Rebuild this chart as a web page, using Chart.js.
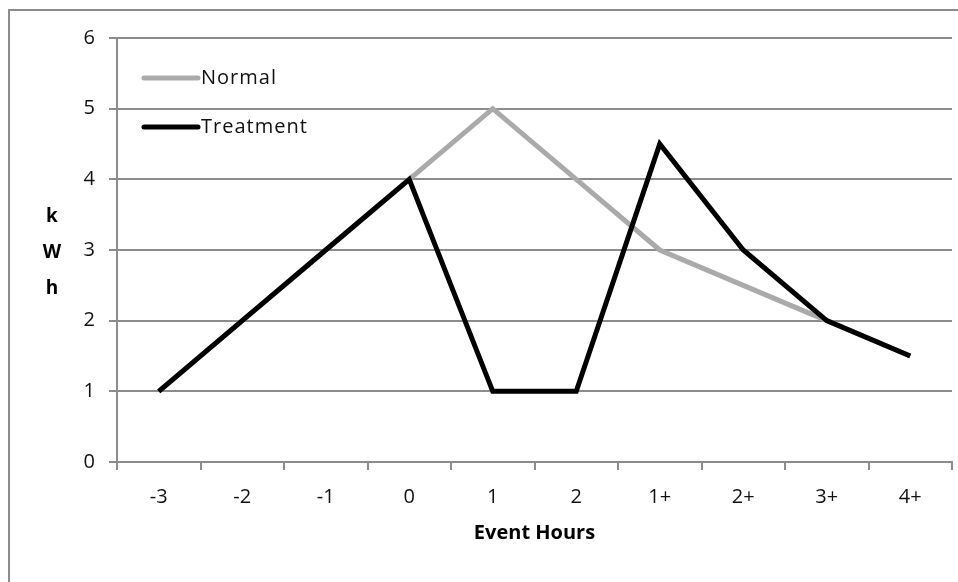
<!DOCTYPE html>
<html>
<head>
<meta charset="utf-8">
<script src="https://cdn.jsdelivr.net/npm/chart.js@4.4.1/dist/chart.umd.min.js"></script>
<style>
  html, body { margin: 0; padding: 0; background: #fff; overflow: hidden; }
  #frame {
    position: absolute; left: 8px; top: 9px; width: 1000px; height: 700px;
    border: 2px solid #8c8c8c; box-sizing: border-box;
  }
  #wrap { position: absolute; left: 0; top: 0; width: 958px; height: 582px; }
</style>
</head>
<body>
<div id="frame"></div>
<div id="wrap"><canvas id="kwhChart" width="958" height="582"></canvas></div>
<script>
// Chart data
const hours = ['-3', '-2', '-1', '0', '1', '2', '1+', '2+', '3+', '4+'];
const normalKwh = [1, 2, 3, 4, 5, 4, 3, 2.5, 2, 1.5];
const treatmentKwh = [1, 2, 3, 4, 1, 1, 4.5, 3, 2, 1.5];
const yTicks = [0, 1, 2, 3, 4, 5, 6];

const FONT = '"Open Sans", "Liberation Sans", sans-serif';
const GRID = '#8c8c8c';

// legend drawn inside the plot, top-left
const insideLegend = {
    id: 'insideLegend',
    afterDraw(chart) {
        const ctx = chart.ctx;
        const left = chart.chartArea.left;
        const items = chart.data.datasets.map((ds, i) => ({ label: ds.label, color: ds.borderColor, y: chart.chartArea.top + 40 + i * 49 }));
        ctx.save();
        ctx.font = '20px ' + FONT;
        ctx.letterSpacing = '1px';
        ctx.textBaseline = 'middle';
        items.forEach(it => {
            ctx.strokeStyle = it.color;
            ctx.lineWidth = 5;
            ctx.lineCap = 'round';
            ctx.beginPath();
            ctx.moveTo(left + 27, it.y);
            ctx.lineTo(left + 81, it.y);
            ctx.stroke();
            ctx.fillStyle = '#111';
            ctx.fillText(it.label, left + 84, it.y);
        });
        ctx.restore();
    }
};

// stacked "k W h" axis title
const yTitle = {
    id: 'yTitle',
    afterDraw(chart) {
        const ctx = chart.ctx;
        ctx.save();
        ctx.font = 'bold 19px ' + FONT;
        ctx.fillStyle = '#000';
        ctx.textAlign = 'center';
        ctx.textBaseline = 'middle';
        ['k', 'W', 'h'].forEach((ch, i) => ctx.fillText(ch, 52, 217 + i * 36));
        ctx.restore();
    }
};

new Chart(document.getElementById('kwhChart'), {
    type: 'line',
    data: {
        labels: hours,
        datasets: [
            {
                label: 'Normal',
                data: normalKwh,
                borderColor: '#aaaaaa',
                borderWidth: 5,
                borderJoinStyle: 'miter',
                pointRadius: 0,
                tension: 0,
                order: 2
            },
            {
                label: 'Treatment',
                data: treatmentKwh,
                borderColor: '#000000',
                borderWidth: 5,
                borderJoinStyle: 'miter',
                pointRadius: 0,
                tension: 0,
                order: 1
            }
        ]
    },
    options: {
        responsive: false,
        animation: false,
        layout: { padding: { top: 38, right: 6, left: 0, bottom: 33 } },
        plugins: {
            legend: { display: false },
            tooltip: { enabled: false }
        },
        scales: {
            x: {
                offset: true,
                grid: {
                    offset: true,
                    drawOnChartArea: false,
                    drawTicks: true,
                    tickLength: 8,
                    color: GRID,
                    lineWidth: 2
                },
                border: { display: true, color: GRID, width: 2 },
                ticks: {
                    color: '#111',
                    font: { family: FONT, size: 20 },
                    padding: 15,
                    maxRotation: 0
                },
                title: {
                    display: true,
                    text: 'Event Hours',
                    color: '#000',
                    font: { family: FONT, size: 20, weight: 'bold' },
                    padding: { top: 3 }
                },
                afterFit(scale) { scale.height = 87; }
            },
            y: {
                min: 0,
                max: 6,
                afterBuildTicks(scale) { scale.ticks = yTicks.map(v => ({ value: v })); },
                grid: {
                    color: GRID,
                    lineWidth: 2,
                    tickLength: 8
                },
                border: { display: true, color: GRID, width: 2 },
                ticks: {
                    color: '#111',
                    font: { family: FONT, size: 20 },
                    padding: 14
                },
                afterFit(scale) { scale.width = 117; }
            }
        }
    },
    plugins: [insideLegend, yTitle]
});
</script>
</body>
</html>
